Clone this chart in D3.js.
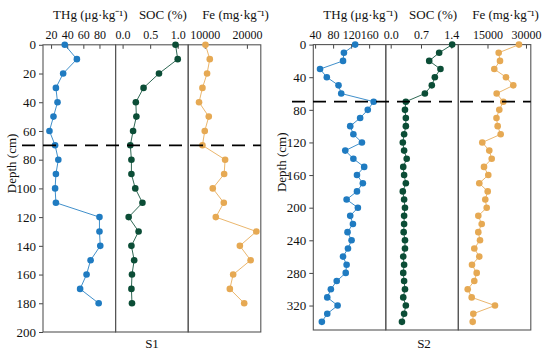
<!DOCTYPE html>
<html><head><meta charset="utf-8">
<script src="https://cdn.jsdelivr.net/npm/d3@7"></script>
<style>
html,body{margin:0;padding:0;background:#fff;}
svg text{font-family:"Times New Roman","Liberation Serif",Tinos,serif !important;fill:#111;}
</style></head>
<body><svg id="c" width="550" height="356"></svg>
<script>
// ---------- data ----------
const depthS1 = [0,10,20,30,40,50,60,70,80,90,100,110,120,130,140,150,160,170,180];
const thgS1 = [37,52,35,26,28,23,18,25,29,26,25,26,80,80,81,69,64,56,79];
const socS1 = [0.96,1.0,0.66,0.38,0.24,0.25,0.19,0.14,0.16,0.16,0.23,0.36,0.11,0.29,0.16,0.21,0.17,0.16,0.17];
const feS1 = [10170,11190,10550,9450,8640,10950,10000,9450,14830,14600,11900,14520,12620,22240,18330,20880,16740,15950,19360];

const depthS2 = [0,10,20,30,40,50,60,70,80,90,100,110,120,130,140,150,160,170,180,190,200,210,220,230,240,250,260,270,280,290,300,310,320,330,340];
const thgS2 = [129,104,102,51,66,92,98,170,157,140,118,125,144,107,125,149,133,146,133,110,135,118,124,112,121,113,102,110,108,88,75,67,90,67,55];
const socS2 = [1.42,1.12,0.89,1.15,1.02,0.95,0.79,0.35,0.33,0.35,0.35,0.31,0.28,0.31,0.37,0.29,0.31,0.35,0.28,0.31,0.33,0.31,0.31,0.30,0.33,0.33,0.29,0.31,0.29,0.31,0.33,0.29,0.35,0.31,0.26];
const feS2 = [27270,19360,19870,17650,22210,25050,18580,21150,19600,18500,18970,20140,12970,15700,16640,13640,15310,11800,15080,14140,14690,11420,12740,11420,12080,9860,11800,8960,10790,9860,7290,8840,17920,9470,9230];

const thgTicksS1 = [20,40,60,80];
const socTicksS1 = [0.0,0.5,1.0];
const feTicksS1 = [10000,20000];
const depthTicksS1 = [0,20,40,60,80,100,120,140,160,180,200];

const thgTicksS2 = [40,80,120,160];
const socTicksS2 = [0.0,0.7,1.4];
const feTicksS2 = [15000,30000];
const depthTicksS2 = [0,40,80,120,160,200,240,280,320];

const variableTitles = ["THg (μg·kg\u207B\u00B9)","SOC (%)","Fe (mg·kg\u207B\u00B9)"];
const siteNames = ["S1","S2"];
const boundaryDepth = [70,70];

// ---------- layout ----------
const FONT = '"Times New Roman","Liberation Serif",Tinos,serif';
const colors = ["#1f7bc1","#0b4d36","#e6a953"];
const svg = d3.select("#c");

const sites = [
  {name:siteNames[0], left:43, top:44.8, bottom:332, sub:72.6, depthDomain:[0,200], depthTicks:depthTicksS1,
   depth:depthS1, series:[thgS1,socS1,feS1],
   domains:[[10,100],[-0.127,1.19],[6070,23300]],
   ticks:[thgTicksS1,socTicksS1,feTicksS1], fmt:[d3.format("d"),d3.format(".1f"),d3.format("d")],
   boundary:boundaryDepth[0], labelX:152, dashLeft:22},
  {name:siteNames[1], left:313.3, top:44.6, bottom:330, sub:72.5, depthDomain:[0,350], depthTicks:depthTicksS2,
   depth:depthS2, series:[thgS2,socS2,feS2],
   domains:[[36,197],[-0.113,1.562],[3620,31880]],
   ticks:[thgTicksS2,socTicksS2,feTicksS2], fmt:[d3.format("d"),d3.format(".1f"),d3.format("d")],
   boundary:boundaryDepth[1], labelX:424, dashLeft:292}
];

sites.forEach(s => {
  const g = svg.append("g");
  const y = d3.scaleLinear().domain(s.depthDomain).range([s.top, s.bottom]);

  const ya = g.append("g").attr("transform",`translate(${s.left},0)`)
    .call(d3.axisLeft(y).tickValues(s.depthTicks).tickSize(4).tickPadding(3).tickFormat(d3.format("d")));
  ya.attr("font-family",FONT);
  ya.select(".domain").remove();
  ya.selectAll("line").attr("stroke","#444");
  ya.selectAll("text").attr("font-size",13);

  g.append("text").attr("transform",`translate(${s.left-27},${(s.top+s.bottom)/2-25}) rotate(-90)`)
    .attr("text-anchor","middle").attr("font-size",13).attr("font-family",FONT).text("Depth (cm)");

  s.series.forEach((vals,i) => {
    const x0 = s.left + i*s.sub, x1 = x0 + s.sub;
    const x = d3.scaleLinear().domain(s.domains[i]).range([x0,x1]);
    const xa = g.append("g").attr("transform",`translate(0,${s.top})`)
      .call(d3.axisTop(x).tickValues(s.ticks[i]).tickSize(-4).tickPadding(6).tickFormat(s.fmt[i]));
    xa.attr("font-family",FONT);
    xa.select(".domain").remove();
    xa.selectAll("line").attr("stroke","#444");
    xa.selectAll("text").attr("font-size",12);

    g.append("rect").attr("x",x0).attr("y",s.top).attr("width",s.sub).attr("height",s.bottom-s.top)
      .attr("fill","none").attr("stroke","#555").attr("stroke-width",1.1);

    g.append("text").attr("x",(x0+x1)/2+11).attr("y",19).attr("text-anchor","middle")
      .attr("font-size",13).attr("font-family",FONT).text(variableTitles[i]);

    const pts = vals.map((v,k)=>[x(v), y(s.depth[k])]);
    g.append("path").attr("d",d3.line()(pts)).attr("fill","none")
      .attr("stroke",colors[i]).attr("stroke-width",1).attr("stroke-opacity",0.85);
    g.selectAll(null).data(pts).enter().append("circle")
      .attr("cx",d=>d[0]).attr("cy",d=>d[1]).attr("r",3.3).attr("fill",colors[i]);
  });

  const yb = y(s.boundary);
  g.append("line").attr("x1",s.dashLeft).attr("x2",s.left+3*s.sub).attr("y1",yb).attr("y2",yb)
    .attr("stroke","#000").attr("stroke-width",1.8).attr("stroke-dasharray","13,8");

  g.append("text").attr("x",s.labelX).attr("y",348).attr("text-anchor","middle")
    .attr("font-size",13).attr("font-family",FONT).text(s.name);
});
</script></body></html>
